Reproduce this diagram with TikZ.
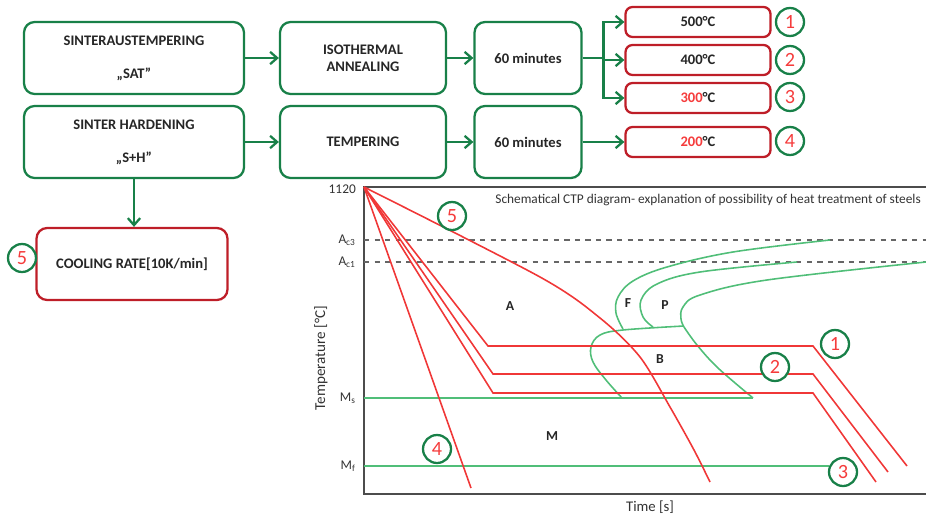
\documentclass[tikz,border=0pt]{standalone}
\usepackage{fontspec}
\setmainfont{Carlito}
\usetikzlibrary{arrows.meta}

\definecolor{boxgreen}{RGB}{24,128,72}
\definecolor{boxred}{RGB}{190,30,40}
\definecolor{numred}{RGB}{245,60,60}
\definecolor{curvered}{RGB}{240,55,55}
\definecolor{curvegreen}{RGB}{80,190,120}

\begin{document}
\begin{tikzpicture}[x=0.02cm, y=-0.02cm, >={Straight Barb[length=4pt,width=7pt]},
    % Styles
    proc/.style={
        draw=#1, line width=1.3pt, rounded corners=6pt,
        minimum height=1.44cm, inner sep=2pt,
        font=\fontsize{8.3}{9.8}\selectfont\bfseries, align=center, text=black!85
    },
    tbox/.style={
        draw=boxred, line width=1.3pt, rounded corners=4pt,
        minimum width=2.9cm, minimum height=0.6cm, inner sep=1pt,
        font=\fontsize{8.3}{9}\selectfont\bfseries, text=black!85
    },
    num/.style={
        circle, draw=boxgreen, line width=1.3pt, minimum size=0.56cm, inner sep=0pt,
        font=\fontsize{11.5}{12}\selectfont, text=numred
    },
    conn/.style={
        ->, line width=1.3pt, boxgreen
    },
    lbl/.style={
        font=\fontsize{7.6}{9}\selectfont, text=black!80
    },
    zone/.style={
        font=\fontsize{7.8}{9}\selectfont\bfseries, text=black!85
    },
    rcurve/.style={curvered, line width=0.9pt},
    gcurve/.style={curvegreen, line width=0.9pt}
]
\useasboundingbox (0,0) rectangle (926,517);

% =============================================
% FLOW: upper row (SAT)
% =============================================
\node[proc=boxgreen, minimum width=4.4cm] (sat) at (134,58) {SINTERAUSTEMPERING\\[9pt]„SAT”};
\node[proc=boxgreen, minimum width=3.32cm] (iso) at (363,58) {ISOTHERMAL\\ANNEALING};
\node[proc=boxgreen, minimum width=2.14cm] (min1) at (528,58) {60 minutes};
\draw[conn] (sat) -- (iso);
\draw[conn] (iso) -- (min1);

% temperatures
\node[tbox] (t500) at (698,22) {500°C};
\node[tbox] (t400) at (698,60) {400°C};
\node[tbox] (t300) at (698,98) {\textcolor{numred}{300}°C};

\draw[line width=1.3pt, boxgreen] (min1.east) -- ++(21,0) coordinate (split);
\draw[conn] (split) |- (t500.west);
\draw[conn] (split) |- (t400.west);
\draw[conn] (split) |- (t300.west);

% =============================================
% FLOW: lower row (S+H)
% =============================================
\node[proc=boxgreen, minimum width=4.4cm] (sh) at (134,142) {SINTER HARDENING\\[9pt]„S+H”};
\node[proc=boxgreen, minimum width=3.32cm] (tempering) at (363,142) {TEMPERING};
\node[proc=boxgreen, minimum width=2.14cm] (min2) at (528,142) {60 minutes};
\node[tbox] (t200) at (698,142) {\textcolor{numred}{200}°C};
\draw[conn] (sh) -- (tempering);
\draw[conn] (tempering) -- (min2);
\draw[conn] (min2) -- (t200);

% cooling
\node[proc=boxred, minimum width=3.82cm] (cool) at (132,264) {COOLING RATE[10K/min]};
\draw[conn] (sh.south) -- (sh.south |- cool.north);

% numbers
\node[num] (n1) at (790,22)  {1};
\node[num] (n2) at (790,60)  {2};
\node[num] (n3) at (790,97)  {3};
\node[num] (n4) at (790,141) {4};
\node[num] (n5) at (22,258)  {5};

% =============================================
% CTP DIAGRAM
% =============================================
\coordinate (o) at (364,187);
\draw[line width=0.9pt, black!70] (926,187) -- (o) -- (364,494) -- (926,494);

\node[lbl, anchor=east] (t1120) at (362,189) {1120};
\node[lbl, anchor=east] (ac3) at (362,240) {A$_{\mathrm{c3}}$};
\node[lbl, anchor=east] (ac1) at (362,262) {A$_{\mathrm{c1}}$};
\node[lbl, anchor=east] (ms) at (362,398) {M$_{\mathrm{s}}$};
\node[lbl, anchor=east] (mf) at (362,466) {M$_{\mathrm{f}}$};
\node[lbl, rotate=90, font=\fontsize{8.6}{9}\selectfont] (ylab) at (321,358) {Temperature [°C]};
\node[lbl, font=\fontsize{8.4}{9}\selectfont] (xlab) at (650,507) {Time [s]};
\node[lbl, anchor=east] (title) at (927,200) {Schematical CTP diagram- explanation of possibility of heat treatment of steels};

\draw[dashed, black!60, line width=0.7pt] (364,240) -- (926,240);
\draw[dashed, black!60, line width=0.7pt] (364,262) -- (926,262);

% phase curves
\draw[gcurve] plot[smooth, tension=0.6] coordinates {(830,240) (733,252) (667,267) (633,281) (618,297) (616,313) (623,329)};
\draw[gcurve] plot[smooth, tension=0.6] coordinates {(797,262) (700,272) (657,284) (641,300) (643,317) (653,327)};
\draw[gcurve] plot[smooth, tension=0.6] coordinates {(926,262) (767,280) (700,295) (683,307) (681,319) (684,327)};
\draw[gcurve] plot[smooth, tension=0.6] coordinates {(684,327) (697,345) (718,368) (753,398)};
\draw[gcurve] plot[smooth, tension=0.6] coordinates {(684,326) (623,330) (600,335) (591,347) (593,362) (606,380) (622,398)};
\draw[gcurve] (364,398) -- (753,398);
\draw[gcurve] (364,466) -- (829,466);

% cooling curves
\draw[rcurve] plot[smooth, tension=0.5] coordinates {(o) (540,277) (600,318) (640,357) (670,407) (694,450) (710,482)};
\draw[rcurve] (o) -- (471,488);
\draw[rcurve] (o) -- (488,346) -- (813,346) -- (907,466);
\draw[rcurve] (o) -- (493,374) -- (813,374) -- (888,472);
\draw[rcurve] (o) -- (493,393) -- (813,393) -- (876,482);

% zones
\node[zone] (za) at (510,306) {A};
\node[zone] (zf) at (628,303) {F};
\node[zone] (zp) at (665,305) {P};
\node[zone] (zb) at (660,359) {B};
\node[zone] (zm) at (552,436) {M};

% curve numbers
\node[num, fill=white] (c1) at (835,344) {1};
\node[num, fill=white] (c2) at (775,367) {2};
\node[num, fill=white] (c3) at (843,472) {3};
\node[num] (c4) at (437,449) {4};
\node[num] (c5) at (452,216) {5};

\end{tikzpicture}
\end{document}
